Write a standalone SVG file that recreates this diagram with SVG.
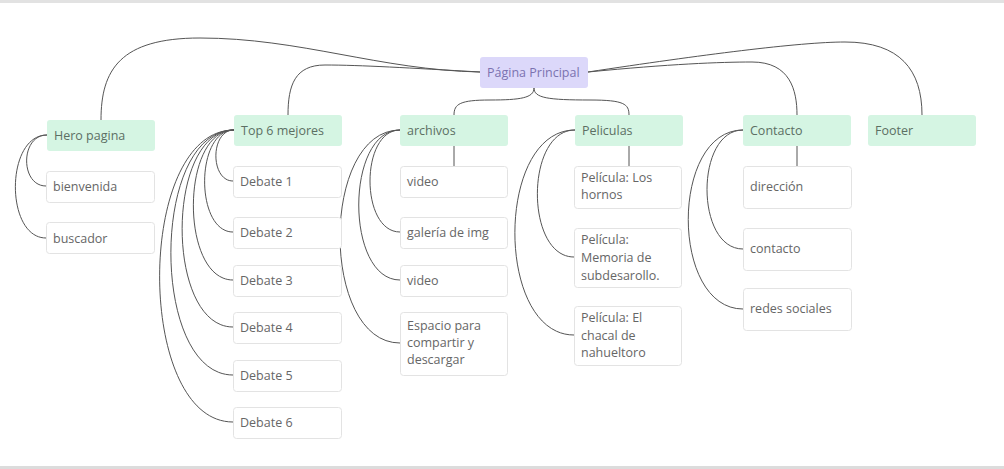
<svg xmlns="http://www.w3.org/2000/svg" width="1004" height="469" viewBox="0 0 1004 469">
<style>
.leaf{fill:#ffffff;stroke:#e3e3e3;stroke-width:1}
.sec{fill:#d5f5e3}
.root{fill:#dcd8fa}
text{font-family:"Open Sans","Liberation Sans",sans-serif;font-size:12.5px;fill:#666}
.st{fill:#5c6f63}
.rt{fill:#7b72b0}
.edges path{fill:none;stroke:#555;stroke-width:1}
</style>
<rect x="0" y="0" width="1004" height="469" fill="#ffffff"/>
<rect x="0" y="0" width="1004" height="3" fill="#e2e2e2"/>
<rect x="0" y="466" width="1004" height="3" fill="#dcdcdc"/>
<g class="edges">
<path d="M480,72 C380,70 300,38 200,38 C120,38 101,70 101,120"/>
<path d="M480,72 C410,68 360,65 325,65 C295,65 288,85 288,115"/>
<path d="M534,88 C534,98 520,100 490,100 C460,100 454,104 454,115"/>
<path d="M534,88 C534,98 548,100 590,100 C624,100 629,104 629,115"/>
<path d="M588,72 C670,64 720,62 752,62 C790,62 797,90 797,115"/>
<path d="M588,72 C700,55 800,42 845,42 C900,42 922,70 922,115"/>
<path d="M454,146 V166"/>
<path d="M629,146 V166"/>
<path d="M797,146 V166"/>
<path d="M47,135 C20,135 20,186 46,186"/>
<path d="M47,135 C5,135 5,238 46,238"/>
<path d="M234,130 C210,130 210,181 233,181"/>
<path d="M234,130 C195,130 195,232 233,232"/>
<path d="M234,130 C180,130 180,280 233,280"/>
<path d="M234,130 C165,130 165,327 233,327"/>
<path d="M234,130 C150,130 150,375 233,375"/>
<path d="M234,130 C135,130 135,422 233,422"/>
<path d="M400,130 C360,130 360,232 400,232"/>
<path d="M400,130 C345,130 345,280 400,280"/>
<path d="M400,130 C320,130 320,343 400,343"/>
<path d="M575,130 C525,130 525,257 574,257"/>
<path d="M575,130 C495,130 495,335 574,335"/>
<path d="M743,130 C695,130 695,249 743,249"/>
<path d="M743,130 C670,130 670,309 743,309"/>
</g>
<g id="root"><rect class="root" x="480" y="57" width="108" height="31" rx="3"/><text class="rt" x="487" y="77">Página Principal</text></g>
<g id="hero"><rect class="sec" x="47" y="120" width="108" height="31" rx="3"/><text class="st" x="54" y="140">Hero pagina</text></g>
<g id="bienvenida"><rect class="leaf" x="46.5" y="171.5" width="108" height="31" rx="3"/><text x="53" y="191">bienvenida</text></g>
<g id="buscador"><rect class="leaf" x="46.5" y="222.5" width="108" height="31" rx="3"/><text x="53" y="243">buscador</text></g>
<g id="top6"><rect class="sec" x="234" y="115" width="108" height="31" rx="3"/><text class="st" x="241" y="135">Top 6 mejores</text></g>
<g id="d1"><rect class="leaf" x="233.5" y="166.5" width="108" height="31" rx="3"/><text x="240" y="186">Debate 1</text></g>
<g id="d2"><rect class="leaf" x="233.5" y="217.5" width="108" height="31" rx="3"/><text x="240" y="237">Debate 2</text></g>
<g id="d3"><rect class="leaf" x="233.5" y="265.5" width="108" height="31" rx="3"/><text x="240" y="285">Debate 3</text></g>
<g id="d4"><rect class="leaf" x="233.5" y="312.5" width="108" height="31" rx="3"/><text x="240" y="332">Debate 4</text></g>
<g id="d5"><rect class="leaf" x="233.5" y="360.5" width="108" height="31" rx="3"/><text x="240" y="380">Debate 5</text></g>
<g id="d6"><rect class="leaf" x="233.5" y="407.5" width="108" height="31" rx="3"/><text x="240" y="427">Debate 6</text></g>
<g id="archivos"><rect class="sec" x="400" y="115" width="108" height="31" rx="3"/><text class="st" x="407" y="135">archivos</text></g>
<g id="video1"><rect class="leaf" x="400.5" y="166.5" width="107" height="31" rx="3"/><text x="407" y="186">video</text></g>
<g id="galeria"><rect class="leaf" x="400.5" y="217.5" width="107" height="31" rx="3"/><text x="407" y="237">galería de img</text></g>
<g id="video2"><rect class="leaf" x="400.5" y="265.5" width="107" height="31" rx="3"/><text x="407" y="285">video</text></g>
<g id="espacio"><rect class="leaf" x="400.5" y="312.5" width="107" height="63" rx="3"/><text x="407" y="330">Espacio para</text><text x="407" y="347">compartir y</text><text x="407" y="364">descargar</text></g>
<g id="peliculas"><rect class="sec" x="575" y="115" width="108" height="31" rx="3"/><text class="st" x="582" y="135">Peliculas</text></g>
<g id="p1"><rect class="leaf" x="574.5" y="166.5" width="107" height="42" rx="3"/><text x="581" y="182">Película: Los</text><text x="581" y="199">hornos</text></g>
<g id="p2"><rect class="leaf" x="574.5" y="228.5" width="107" height="59" rx="3"/><text x="581" y="244">Película:</text><text x="581" y="262">Memoria de</text><text x="581" y="280">subdesarollo.</text></g>
<g id="p3"><rect class="leaf" x="574.5" y="306.5" width="107" height="59" rx="3"/><text x="581" y="322">Película: El</text><text x="581" y="340">chacal de</text><text x="581" y="357">nahueltoro</text></g>
<g id="contacto"><rect class="sec" x="743" y="115" width="108" height="31" rx="3"/><text class="st" x="750" y="135">Contacto</text></g>
<g id="direccion"><rect class="leaf" x="743.5" y="166.5" width="108" height="42" rx="3"/><text x="750" y="191">dirección</text></g>
<g id="contacto2"><rect class="leaf" x="743.5" y="228.5" width="108" height="42" rx="3"/><text x="750" y="253">contacto</text></g>
<g id="redes"><rect class="leaf" x="743.5" y="288.5" width="108" height="42" rx="3"/><text x="750" y="313">redes sociales</text></g>
<g id="footer"><rect class="sec" x="868" y="115" width="108" height="31" rx="3"/><text class="st" x="875" y="135">Footer</text></g>
</svg>
